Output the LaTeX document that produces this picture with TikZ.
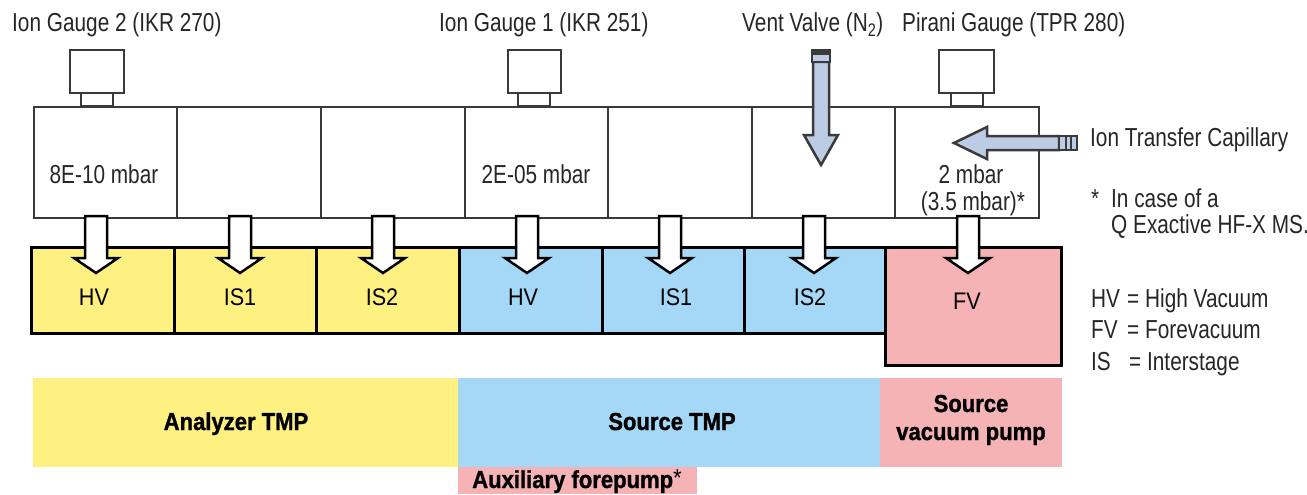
\documentclass[tikz,border=0pt]{standalone}
\usepackage{fontspec}
\setmainfont{Liberation Sans}
\newfontfamily\condf{Liberation Sans}[FakeStretch=0.8]
\newfontfamily\pumpf{Liberation Sans}[FakeStretch=0.9]
\newfontfamily\boldf{Liberation Sans}[FakeStretch=0.9,BoldFeatures={FakeBold=1.2}]
\definecolor{linegray}{HTML}{3A3A3A}
\definecolor{yel}{HTML}{FEF081}
\definecolor{blu}{HTML}{A4D8F6}
\definecolor{pnk}{HTML}{F5B3B5}
\definecolor{valve}{HTML}{BDCCE5}
\begin{document}
\begin{tikzpicture}[x=1pt,y=-1pt,
  chamber/.style={draw=linegray,line width=2pt,fill=white,minimum height=111pt,inner sep=0pt,anchor=north west},
  pumpbox/.style={draw=black,line width=2.5pt,minimum height=86pt,inner sep=0pt,anchor=north west},
  band/.style={inner sep=0pt,anchor=north west},
  gaugebox/.style={draw=linegray,line width=2.5pt,fill=white},
  whitearrow/.style={draw=black,line width=2.5pt,fill=white,line join=miter},
  valvearrow/.style={draw=linegray,line width=2.5pt,fill=valve,line join=miter},
  ctxt/.style={font=\condf\fontsize{26}{30}\selectfont,inner sep=0pt,text=black!85},
  ptxt/.style={font=\pumpf\fontsize{24}{28}\selectfont,inner sep=0pt,anchor=base},
  btxt/.style={font=\boldf\bfseries\fontsize{24.5}{28}\selectfont,inner sep=0pt,anchor=base}]
\useasboundingbox (0,0) rectangle (1307,495);

% bottom bands
\node[band,fill=yel,minimum width=425pt,minimum height=89pt] (ban) at (33,378) {};
\node[band,fill=blu,minimum width=422pt,minimum height=89pt] (bsrc) at (458,378) {};
\node[band,fill=pnk,minimum width=182pt,minimum height=89pt] (bsvp) at (880,378) {};
\node[band,fill=pnk,minimum width=239pt,minimum height=27pt] (baux) at (458,467) {};

% chambers
\node[chamber,minimum width=143pt] (c1) at (33,106) {};
\node[chamber,minimum width=144pt] (c2) at (176,106) {};
\node[chamber,minimum width=144pt] (c3) at (320,106) {};
\node[chamber,minimum width=143pt] (c4) at (464,106) {};
\node[chamber,minimum width=144pt] (c5) at (607,106) {};
\node[chamber,minimum width=143pt] (c6) at (751,106) {};
\node[chamber,minimum width=144pt] (c7) at (894,106) {};

% gauges
\draw[gaugebox] (81,93) rectangle (113,106);
\draw[gaugebox] (70,50) rectangle (124,93);
\draw[gaugebox] (518,93) rectangle (550,106);
\draw[gaugebox] (508,50) rectangle (561,93);
\draw[gaugebox] (951,93) rectangle (983,106);
\draw[gaugebox] (939,50) rectangle (994,93);

% vent valve arrow
\draw[valvearrow] (813,62) -- (813,135) -- (804,135) -- (821,165) -- (838,135) -- (829,135) -- (829,62) -- cycle;
\draw[valvearrow] (812,50) rectangle (830,62);
\fill[linegray] (812,50) rectangle (830,55);

% ion transfer capillary arrow
\draw[valvearrow] (1059,136) -- (987,136) -- (987,127) -- (954,143) -- (987,159) -- (987,150) -- (1059,150) -- cycle;
\draw[valvearrow] (1059,136) rectangle (1077,150);
\draw[linegray,line width=1.5pt] (1066,136) -- (1066,150) (1071,136) -- (1071,150);

% pumps
\node[pumpbox,fill=yel,minimum width=143pt] (p1) at (30,246) {};
\node[pumpbox,fill=yel,minimum width=142pt] (p2) at (173,246) {};
\node[pumpbox,fill=yel,minimum width=143pt] (p3) at (315,246) {};
\node[pumpbox,fill=blu,minimum width=143pt] (p4) at (458,246) {};
\node[pumpbox,fill=blu,minimum width=142pt] (p5) at (601,246) {};
\node[pumpbox,fill=blu,minimum width=142pt] (p6) at (743,246) {};
\node[pumpbox,fill=pnk,minimum width=176pt,minimum height=118pt] (pf) at (884,246) {};

% white arrows chamber -> pump
\foreach \cx in {96,240,383,527,670,814,968}{
  \begin{scope}[shift={(\cx,0)}]
    \draw[whitearrow] (-11,216) -- (-11,258) -- (-22,258) -- (0,273) -- (22,258) -- (11,258) -- (11,216) -- cycle;
  \end{scope}
}

% pump labels
\node[ptxt] (l1) at (94,305) {HV};
\node[ptxt] (l2) at (240,305) {IS1};
\node[ptxt] (l3) at (382,305) {IS2};
\node[ptxt] (l4) at (523,305) {HV};
\node[ptxt] (l5) at (676,305) {IS1};
\node[ptxt] (l6) at (810,305) {IS2};
\node[ptxt] (l7) at (967,309) {FV};

% chamber labels
\node[ctxt,anchor=base] (t1) at (104,183) {8E-10 mbar};
\node[ctxt,anchor=base] (t2) at (536,183) {2E-05 mbar};
\node[ctxt,anchor=base] (t3) at (971,183) {2 mbar};
\node[ctxt,anchor=base] (t4) at (973,210) {(3.5 mbar)*};

% top labels
\node[ctxt,anchor=base west] (g2) at (12,32) {Ion Gauge 2 (IKR 270)};
\node[ctxt,anchor=base west] (g1) at (439,32) {Ion Gauge 1 (IKR 251)};
\node[ctxt,anchor=base west] (vv) at (742,32) {Vent Valve (N\textsubscript{2})};
\node[ctxt,anchor=base west] (pg) at (902,32) {Pirani Gauge (TPR 280)};

% right texts
\node[ctxt,anchor=base west] (itc) at (1090,146) {Ion Transfer Capillary};
\node[ctxt,anchor=base west] (ast) at (1091,207) {*};
\node[ctxt,anchor=base west] (n1) at (1111,207) {In case of a};
\node[ctxt,anchor=base west] (n2) at (1111,233) {Q Exactive HF-X MS.};
\node[ctxt,anchor=base west] (hv) at (1091,307) {HV};
\node[ctxt,anchor=base west] (hvd) at (1127,307) {= High Vacuum};
\node[ctxt,anchor=base west] (fv) at (1091,338) {FV};
\node[ctxt,anchor=base west] (fvd) at (1127,338) {= Forevacuum};
\node[ctxt,anchor=base west] (is) at (1091,370) {IS};
\node[ctxt,anchor=base west] (isd) at (1129,370) {= Interstage};

% band labels
\node[btxt] (a1) at (236,430) {Analyzer TMP};
\node[btxt] (a2) at (672,430) {Source TMP};
\node[btxt] (a3) at (971,412) {Source};
\node[btxt] (a4) at (971,440) {vacuum pump};
\node[btxt] (a5) at (577,488) {Auxiliary forepump\raisebox{2pt}{\mdseries *}};
\end{tikzpicture}
\end{document}
